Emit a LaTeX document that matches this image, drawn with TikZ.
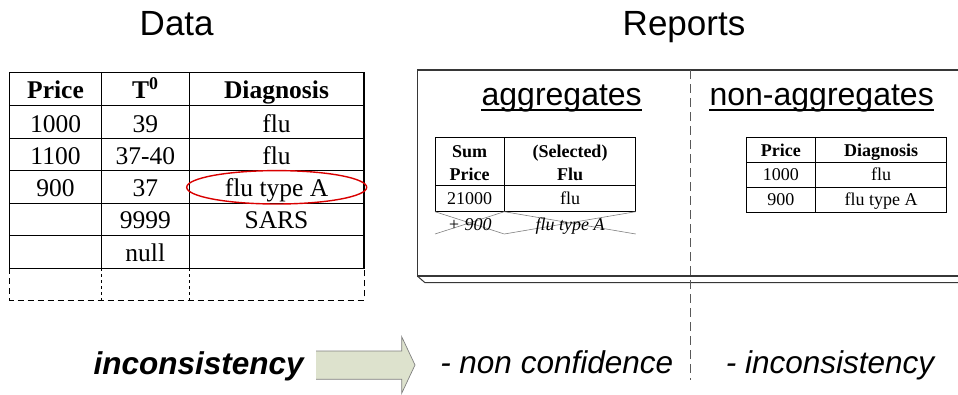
\documentclass[tikz,border=0pt]{standalone}
\usepackage{fontspec}
\setmainfont{Liberation Serif}
\newfontfamily\arialfont{Liberation Sans}
\definecolor{arrowgreen}{RGB}{221,226,205}
\definecolor{boxgray}{RGB}{55,55,55}

\begin{document}
\begin{tikzpicture}[x=1pt,y=-1pt,
    cell/.style={inner sep=0pt,anchor=base,font=\fontsize{25.5}{28}\selectfont},
    headcell/.style={cell,font=\fontsize{25.5}{28}\selectfont\bfseries},
    small/.style={inner sep=0pt,anchor=base,align=center,font=\fontsize{18}{22.7}\selectfont},
    smallhead/.style={small,font=\fontsize{18}{22.7}\selectfont\bfseries},
    title/.style={inner sep=0pt,anchor=base,font=\arialfont\fontsize{35}{40}\selectfont},
    sub/.style={inner sep=0pt,anchor=base,font=\arialfont\fontsize{32}{36}\selectfont},
    remark/.style={inner sep=0pt,anchor=base,font=\arialfont\itshape\fontsize{31.5}{36}\selectfont}]
  \useasboundingbox (0,0) rectangle (958,394);

  % titles
  \node[title] (data) at (176.7,35) {Data};
  \node[title] (reports) at (684,35) {Reports};

  % data table
  \draw[line width=1.2pt] (9.3,72.7) rectangle (364,268.3);
  \draw[line width=1pt] (9.3,105.7) -- (364,105.7);
  \draw[line width=1pt] (9.3,138.3) -- (364,138.3);
  \draw[line width=1pt] (9.3,170.7) -- (364,170.7);
  \draw[line width=1pt] (9.3,203.3) -- (364,203.3);
  \draw[line width=1pt] (9.3,235.7) -- (364,235.7);
  \draw[line width=1pt] (101.7,72.7) -- (101.7,268.3);
  \draw[line width=1pt] (189,72.7) -- (189,268.3);
  \draw[line width=1pt,dash pattern=on 6pt off 4pt] (9.3,268.3) -- (9.3,300) -- (364,300) -- (364,268.3);
  \draw[line width=0.6pt,dash pattern=on 3pt off 3pt] (101.7,268.3) -- (101.7,300);
  \draw[line width=0.6pt,dash pattern=on 3pt off 3pt] (189,268.3) -- (189,300);

  \node[headcell] (hprice) at (55.5,98.3) {Price};
  \node[headcell] (htemp) at (145.3,98.3) {T\textsuperscript{0}};
  \node[headcell] (hdiag) at (276.5,98.3) {Diagnosis};
  \node[cell] (p1) at (55.5,132.5) {1000};
  \node[cell] (t1) at (145.3,132.5) {39};
  \node[cell] (d1) at (276.5,132.5) {flu};
  \node[cell] (p2) at (55.5,164.5) {1100};
  \node[cell] (t2) at (145.3,164.5) {37-40};
  \node[cell] (d2) at (276.5,164.5) {flu};
  \node[cell] (p3) at (55.5,196.8) {900};
  \node[cell] (t3) at (145.3,196.8) {37};
  \node[cell] (d3) at (276.5,196.8) {flu type A};
  \node[cell] (t4) at (145.3,228.5) {9999};
  \node[cell] (d4) at (276.5,228.5) {SARS};
  \node[cell] (t5) at (145.3,261.5) {null};

  \draw[red!85!black,line width=1.4pt] (276.7,187.3) ellipse (90 and 16.7);

  % reports box
  \draw[boxgray,line width=1.2pt] (958,70) -- (417.3,70) -- (417.3,276) -- (958,276);
  \draw[boxgray,line width=1pt] (417.3,276) -- (425,282.7) -- (958,282.7);
  \draw[gray!70!black,line width=0.9pt,dash pattern=on 9pt off 5pt] (690.7,70) -- (690.7,380);

  \node[sub] (agg) at (561.7,105) {aggregates};
  \node[sub] (nonagg) at (821.7,105) {non-aggregates};
  \draw[line width=1.5pt] ([yshift=-5pt]agg.base west) -- ([yshift=-5pt]agg.base east);
  \draw[line width=1.5pt] ([yshift=-5pt]nonagg.base west) -- ([yshift=-5pt]nonagg.base east);

  % aggregates table
  \draw[line width=1pt] (435,137.7) rectangle (635.7,211.7);
  \draw[line width=1pt] (435,185.7) -- (635.7,185.7);
  \draw[line width=1pt] (504.3,137.7) -- (504.3,211.7);
  \draw[gray,line width=0.6pt] (435,211.7) -- (504.3,234) (435,234) -- (504.3,211.7);
  \draw[gray,line width=0.6pt] (504.3,211.7) -- (635.7,234) (504.3,234) -- (635.7,211.7);
  \node[smallhead] (sumprice) at (469.7,180) {Sum\\Price};
  \node[smallhead] (selflu) at (570,180) {(Selected)\\Flu};
  \node[small] (sum) at (469.7,204) {21000};
  \node[small] (aflu) at (570,204) {flu};
  \node[small,font=\fontsize{18}{22.7}\selectfont\itshape] (plus) at (469.7,230) {+ 900};
  \node[small,font=\fontsize{18}{22.7}\selectfont\itshape] (fluA) at (570,230) {flu type A};

  % non-aggregates table
  \draw[line width=1pt] (746,137.7) rectangle (946.7,212.3);
  \draw[line width=1pt] (746,162.7) -- (946.7,162.7);
  \draw[line width=0.8pt] (746,187.3) -- (946.7,187.3);
  \draw[line width=1pt] (815.7,137.7) -- (815.7,212.3);
  \node[smallhead] (nprice) at (780.8,156.7) {Price};
  \node[smallhead] (ndiag) at (881.2,156.7) {Diagnosis};
  \node[small] (np1) at (780.8,180.7) {1000};
  \node[small] (nd1) at (881.2,180.7) {flu};
  \node[small] (np2) at (780.8,205.7) {900};
  \node[small] (nd2) at (881.2,205.7) {flu type A};

  % bottom line
  \node[remark,font=\arialfont\bfseries\itshape\fontsize{31.5}{36}\selectfont] (incons) at (198.7,374) {inconsistency};
  \fill[arrowgreen] (316,351) -- (401.7,351) -- (401.7,336.7) -- (415,365) -- (401.7,393.3) -- (401.7,379.3) -- (316,379.3) -- cycle;
  \draw[gray,line width=0.7pt] (316,351) -- (401.7,351) -- (401.7,336.7) -- (415,365) -- (401.7,393.3) -- (401.7,379.3) -- (316,379.3);
  \node[remark] (nonconf) at (556.7,373) {- non confidence};
  \node[remark] (incons2) at (830,373) {- inconsistency};
\end{tikzpicture}
\end{document}
